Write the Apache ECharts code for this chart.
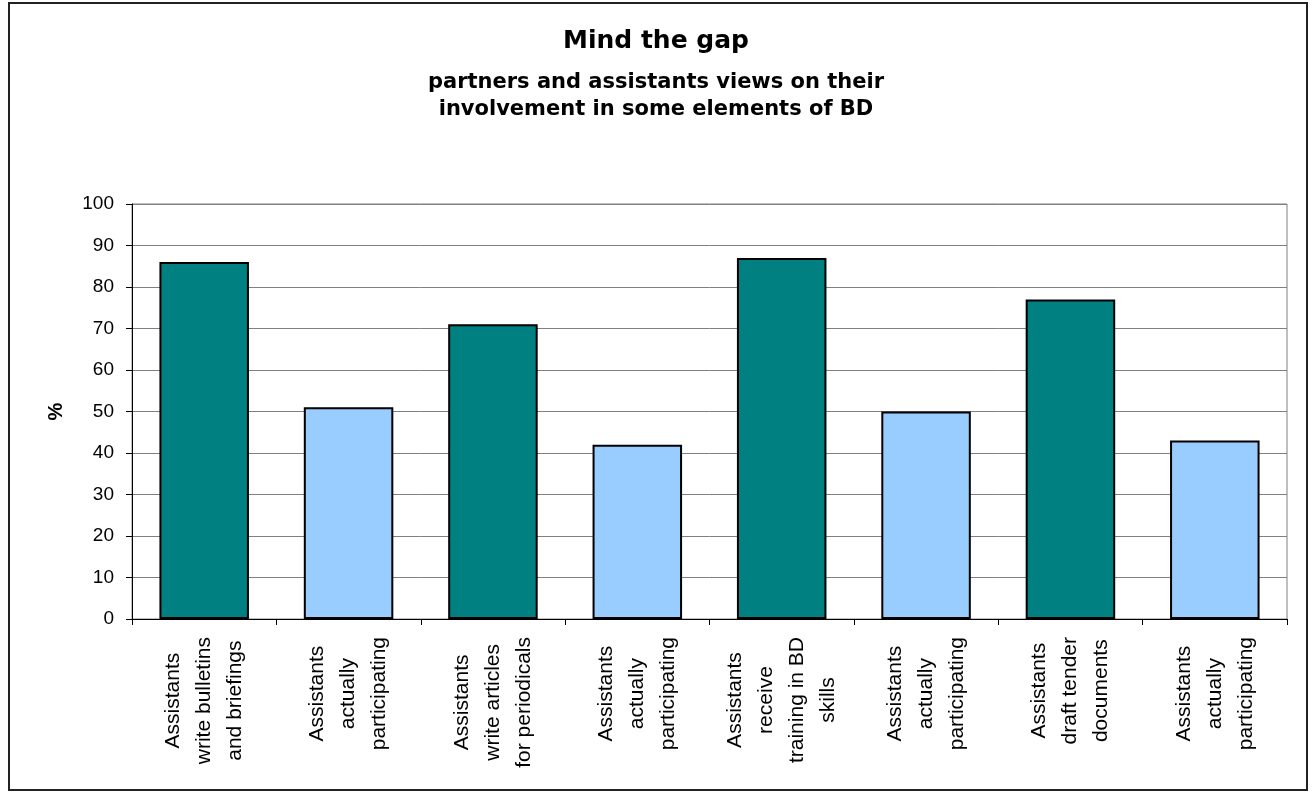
<!DOCTYPE html>
<html>
<head>
<meta charset="utf-8">
<title>Mind the gap</title>
<script src="https://cdn.jsdelivr.net/npm/echarts@6/dist/echarts.min.js"></script>
<style>
  html, body { margin: 0; padding: 0; background: #fff; }
  #chart { width: 1312px; height: 794px; }
</style>
</head>
<body>
<div id="chart"></div>
<script>
const categories = [
  'Assistants\nwrite bulletins\nand briefings',
  'Assistants\nactually\nparticipating',
  'Assistants\nwrite articles\nfor periodicals',
  'Assistants\nactually\nparticipating',
  'Assistants\nreceive\ntraining in BD\nskills',
  'Assistants\nactually\nparticipating',
  'Assistants\ndraft tender\ndocuments',
  'Assistants\nactually\nparticipating'
];
const values = [86, 51, 71, 42, 87, 50, 77, 43];
const yTicks = [0, 10, 20, 30, 40, 50, 60, 70, 80, 90, 100];

const font = '"Liberation Sans", Arial, sans-serif';
const teal = '#008080';
const lightBlue = '#99CCFF';

const chart = echarts.init(document.getElementById('chart'));

chart.setOption({
  animation: false,
  backgroundColor: '#fff',
  title: [
    {
      text: 'Mind the gap',
      left: 'center',
      top: 21,
      textStyle: {
        fontFamily: '"DejaVu Sans", sans-serif',
        fontSize: 25,
        fontWeight: 'bold',
        color: '#000',
        lineHeight: 30
      }
    },
    {
      // left: 'center' makes the lines centred too
      text: 'partners and assistants views on their\ninvolvement in some elements of BD',
      left: 'center',
      top: 64,
      textStyle: {
        fontFamily: '"DejaVu Sans", sans-serif',
        fontSize: 21,
        fontWeight: 'bold',
        color: '#000',
        lineHeight: 27
      }
    }
  ],
  graphic: [
    {
      type: 'rect',
      shape: { x: 9, y: 3, width: 1298, height: 787 },
      style: { fill: 'none', stroke: '#222', lineWidth: 2 },
      silent: true
    }
  ],
  grid: {
    left: 132,
    right: 25,
    top: 204,
    bottom: 175,
    show: true,
    borderColor: '#808080',
    borderWidth: 1,
    outerBoundsMode: 'none'
  },
  xAxis: {
    type: 'category',
    data: categories,
    axisLine: { lineStyle: { color: '#000', width: 1 } },
    axisTick: { show: true, length: 6, lineStyle: { color: '#000' } },
    axisLabel: {
      interval: 0,
      rotate: 90,
      margin: 18,
      color: '#000',
      fontFamily: font,
      fontSize: 21,
      lineHeight: 31,
      formatter: (v) => v.split('\n').map((s) => '{c|' + s + '}').join('\n'),
      rich: {
        c: {
          align: 'center',
          fontFamily: font,
          fontSize: 21,
          lineHeight: 31,
          color: '#000'
        }
      }
    },
    splitLine: { show: false }
  },
  yAxis: {
    type: 'value',
    min: yTicks[0],
    max: yTicks[yTicks.length - 1],
    interval: 10,
    name: '%',
    nameLocation: 'middle',
    nameRotate: 90,
    nameGap: 66,
    nameTextStyle: {
      fontFamily: font,
      fontSize: 20,
      fontWeight: 'bold',
      color: '#000'
    },
    axisLine: { show: true, lineStyle: { color: '#000', width: 1 } },
    axisTick: { show: true, length: 6, lineStyle: { color: '#000' } },
    axisLabel: {
      margin: 18,
      color: '#000',
      fontFamily: font,
      fontSize: 19
    },
    splitLine: { show: true, lineStyle: { color: '#808080', width: 1 } }
  },
  series: [
    {
      type: 'bar',
      data: values,
      barWidth: '62%',
      itemStyle: {
        color: (p) => (p.dataIndex % 2 === 0 ? teal : lightBlue),
        borderColor: '#000',
        borderWidth: 2
      },
      emphasis: { disabled: true }
    }
  ]
});
</script>
</body>
</html>
